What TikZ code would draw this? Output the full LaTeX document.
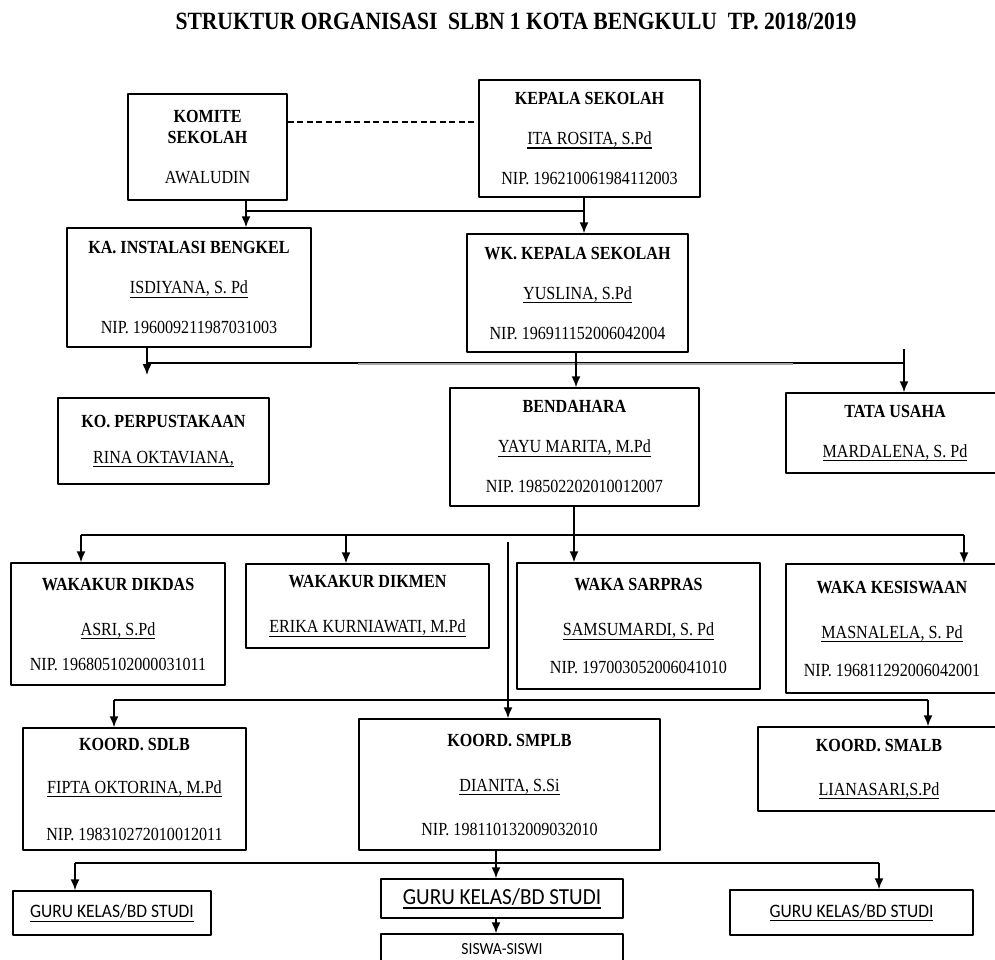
\documentclass[tikz,border=0pt]{standalone}
\usepackage{fontspec}
\setmainfont{Liberation Serif}[FakeStretch=0.87]
\newfontfamily\calibrifont{Carlito}[FakeStretch=0.92]
\usetikzlibrary{arrows.meta}
\tikzset{
  kotak/.style={draw, line width=1.5pt, inner sep=0pt, align=center, font=\fontsize{18.5}{40}\selectfont},
  kotakguru/.style={draw, line width=1.5pt, inner sep=0pt, font=\calibrifont\fontsize{19}{22}\selectfont},
  garis/.style={line width=1.5pt},
}
\newcommand{\nama}[1]{\setbox0\hbox{#1}\leavevmode\rlap{\rule[-4.2pt]{\wd0}{1.2pt}}\box0}

\begin{document}
\begin{tikzpicture}[x=1pt, y=-1pt, >={Latex[length=11pt,width=9pt]}, line join=round]
	\useasboundingbox (0,0) rectangle (995,959);
	\clip (0,0) rectangle (995,959);
	% judul
	\node[font=\bfseries\fontsize{24.8}{28}\selectfont] (judul) at (516,21) {STRUKTUR ORGANISASI\ \ SLBN 1 KOTA BENGKULU\ \ TP. 2018/2019};
	% baris 1
	\node[kotak, minimum width=159pt, minimum height=106pt] (komite) at (207.5,147) {\textbf{KOMITE}\\[-19pt]\textbf{SEKOLAH}\\AWALUDIN};
	\node[kotak, minimum width=221pt, minimum height=117pt] (kepala) at (589.5,138.5) {\textbf{KEPALA SEKOLAH}\\\nama{ITA ROSITA, S.Pd}\\NIP. 196210061984112003};
	% baris 2
	\node[kotak, minimum width=244pt, minimum height=119pt] (bengkel) at (189,287.5) {\textbf{KA. INSTALASI BENGKEL}\\\nama{ISDIYANA, S. Pd}\\NIP. 196009211987031003};
	\node[kotak, minimum width=221pt, minimum height=118pt] (wakasek) at (577.5,293) {\textbf{WK. KEPALA SEKOLAH}\\\nama{YUSLINA, S.Pd}\\NIP. 196911152006042004};
	% baris 3
	\node[kotak, minimum width=211pt, minimum height=86pt] (perpus) at (163.5,441) {\textbf{KO. PERPUSTAKAAN}\\[-4pt]\nama{RINA OKTAVIANA,}};
	\node[kotak, minimum width=249pt, minimum height=118pt] (bendahara) at (574.5,447) {\textbf{BENDAHARA}\\\nama{YAYU MARITA, M.Pd}\\NIP. 198502202010012007};
	\node[kotak, minimum width=218pt, minimum height=80pt] (tatausaha) at (895,433) {\textbf{TATA USAHA}\\\nama{MARDALENA, S. Pd}};
	% baris 4
	\node[kotak, minimum width=214pt, minimum height=122pt] (dikdas) at (118,624) {\textbf{WAKAKUR DIKDAS}\\[5pt]\nama{ASRI, S.Pd}\\[-5pt]NIP. 196805102000031011};
	\node[kotak, minimum width=243pt, minimum height=84pt] (dikmen) at (367.5,606) {\textbf{WAKAKUR DIKMEN}\\[5pt]\nama{ERIKA KURNIAWATI, M.Pd}};
	\node[kotak, minimum width=243pt, minimum height=126pt] (sarpras) at (638.5,626) {\textbf{WAKA SARPRAS}\\[5pt]\nama{SAMSUMARDI, S. Pd}\\[-2pt]NIP. 197003052006041010};
	\node[kotak, minimum width=212pt, minimum height=129pt] (kesiswaan) at (892,628.5) {\textbf{WAKA KESISWAAN}\\[5pt]\nama{MASNALELA, S. Pd}\\[-2pt]NIP. 196811292006042001};
	% baris 5
	\node[kotak, minimum width=223pt, minimum height=122pt] (sdlb) at (134.5,789) {\textbf{KOORD. SDLB}\\[3pt]\nama{FIPTA OKTORINA, M.Pd}\\[7pt]NIP. 198310272010012011};
	\node[kotak, minimum width=301pt, minimum height=131pt] (smplb) at (509.5,784.5) {\textbf{KOORD. SMPLB}\\[5pt]\nama{DIANITA, S.Si}\\[4pt]NIP. 198110132009032010};
	\node[kotak, minimum width=242pt, minimum height=84pt] (smalb) at (879,769) {\textbf{KOORD. SMALB}\\[4pt]\nama{LIANASARI,S.Pd}};
	% baris 6
	\node[kotakguru, minimum width=198pt, minimum height=44pt] (guru1) at (112,913) {\nama{GURU KELAS/BD STUDI}};
	\node[kotakguru, minimum width=242pt, minimum height=39pt, font=\calibrifont\fontsize{23}{26}\selectfont] (guru2) at (502,898.5) {\nama{GURU KELAS/BD STUDI}};
	\node[kotakguru, minimum width=243pt, minimum height=45pt] (guru3) at (851.5,912.5) {\nama{GURU KELAS/BD STUDI}};
	\node[kotakguru, minimum width=242pt, minimum height=30pt, font=\calibrifont\fontsize{17}{20}\selectfont] (siswa) at (502,949) {SISWA-SISWI};
	% garis komite - kepala
	\draw[garis, dash pattern=on 6pt off 3.5pt] (komite.east |- 0,122) -- (kepala.west |- 0,122);
	% cabang 1
	\coordinate (j1a) at (246,211); \coordinate (j1b) at (584,211);
	\draw[garis,->] (komite.south -| j1a) -- (bengkel.north -| j1a);
	\draw[garis,->] (kepala.south -| j1b) -- (wakasek.north -| j1b);
	\draw[garis] (j1a) -- (j1b);
	% cabang 2
	\coordinate (j2a) at (147,363); \coordinate (j2b) at (576,363); \coordinate (j2c) at (904,363);
	\coordinate (ujungperpus) at (147,375); \coordinate (atastu) at (904,349);
	\draw[garis] (j2a) -- (j2c);
	\draw[gray!70, line width=2pt] (358,363.5) -- (793,363.5);
	\draw[garis,->] (bengkel.south -| j2a) -- (ujungperpus);
	\draw[garis,->] (wakasek.south -| j2b) -- (bendahara.north -| j2b);
	\draw[garis,->] (atastu) -- (tatausaha.north -| j2c);
	% cabang 3
	\coordinate (j3a) at (81,535); \coordinate (j3b) at (346,535); \coordinate (j3c) at (574,535); \coordinate (j3d) at (964,535);
	\draw[garis] (j3a) -- (j3d);
	\draw[garis,->] (j3a) -- (dikdas.north -| j3a);
	\draw[garis,->] (j3b) -- (dikmen.north -| j3b);
	\draw[garis,->] (bendahara.south -| j3c) -- (sarpras.north -| j3c);
	\draw[garis,->] (j3d) -- (kesiswaan.north -| j3d);
	% cabang 4
	\coordinate (atas4) at (508,542);
	\coordinate (j4a) at (114,700); \coordinate (j4b) at (508,700); \coordinate (j4c) at (928,700);
	\draw[garis] (atas4) -- (j4b);
	\draw[garis] (j4a) -- (j4c);
	\draw[garis,->] (j4a) -- (sdlb.north -| j4a);
	\draw[garis,->] (j4b) -- (smplb.north -| j4b);
	\draw[garis,->] (j4c) -- (smalb.north -| j4c);
	% cabang 5
	\coordinate (j5a) at (75,863); \coordinate (j5b) at (496,863); \coordinate (j5c) at (879,863);
	\draw[garis] (j5a) -- (j5c);
	\draw[garis,->] (smplb.south -| j5b) -- (guru2.north -| j5b);
	\draw[garis,->] (j5a) -- (guru1.north -| j5a);
	\draw[garis,->] (j5c) -- (guru3.north -| j5c);
	\draw[garis,->] (guru2.south -| j5b) -- (siswa.north -| j5b);
\end{tikzpicture}
\end{document}
